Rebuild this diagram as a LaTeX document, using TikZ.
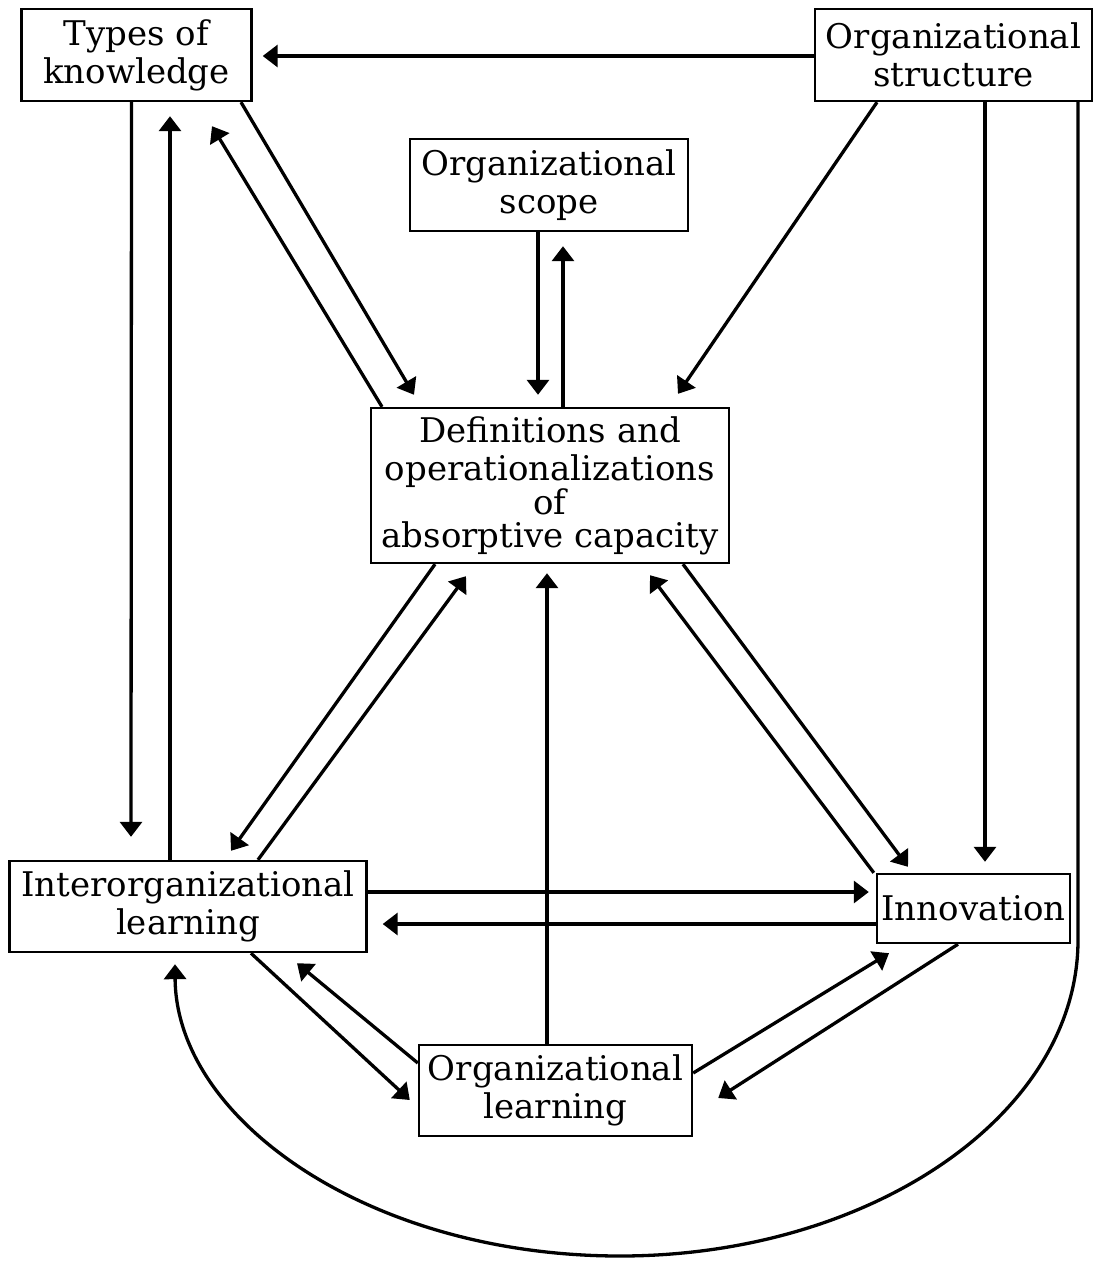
\documentclass[tikz,border=0pt]{standalone}
\usepackage{fontspec}
\setmainfont{DejaVu Serif}
\usetikzlibrary{arrows.meta,calc}
\tikzset{
  box/.style={draw, line width=2.4pt, inner sep=0pt, align=center, font=\fontsize{34}{38}\selectfont},
  arr/.style={line width=3.3pt, -{Triangle[length=15pt,width=22pt]}},
}
\begin{document}
\begin{tikzpicture}[x=1pt,y=-1pt]
\useasboundingbox[fill=white] (0,0) rectangle (1095,1261);
% nodes
\node[box, minimum width=230pt, minimum height=92pt] (tk) at (136.5,55) {Types of\\knowledge};
\node[box, minimum width=277pt, minimum height=92pt] (os) at (953.5,55) {Organizational\\structure};
\node[box, minimum width=278pt, minimum height=92pt] (sc) at (549,185) {Organizational\\scope};
\node[box, minimum width=358pt, minimum height=155pt] (def) at (550,485.5) {Definitions and\\operationalizations\\[-4pt]of\\[-5pt]absorptive capacity};
\node[box, minimum width=357pt, minimum height=91pt] (il) at (188,906.5) {Interorganizational\\learning};
\node[box, minimum width=193pt, minimum height=69pt] (inn) at (973.5,908.5) {Innovation};
\node[box, minimum width=273pt, minimum height=91pt] (ol) at (555.5,1090.5) {Organizational\\learning};
% helper coordinates for the big curve
\coordinate (cR) at (1078,940);
\coordinate (cB) at (620,1256);
% connectors
\draw[arr] ($(os.west)+(0,1)$) -- ($(tk.east)+(10,1)$);
\draw[arr] ($(tk.south)+(-5,0)$) -- ($(il.north)+(-57,-23)$);
\draw[arr] ($(il.north)+(-18,0)$) -- ($(tk.south)+(33.5,14)$);
\draw[arr] ($(tk.south)+(104.5,0)$) -- ($(def.north)+(-136,-12)$);
\draw[arr] ($(def.north)+(-168,0)$) -- ($(tk.south)+(75.5,24)$);
\draw[arr] ($(sc.south)+(-11,0)$) -- ($(def.north)+(-12,-12)$);
\draw[arr] ($(def.north)+(13,0)$) -- ($(sc.south)+(14,14)$);
\draw[arr] ($(os.south)+(-76.5,0)$) -- ($(def.north)+(128,-13)$);
\draw[arr] ($(os.south)+(31.5,0)$) -- ($(inn.north)+(11.5,-11)$);
\draw[arr] ($(os.south)+(124.5,0)$) -- (cR) .. controls (1078,1115) and (870,1256) .. (cB) .. controls (370,1256) and (176,1120) .. ($(il.south)+(-13,11)$);
\draw[arr] ($(def.south)+(-115,0)$) -- ($(il.north)+(43,-9)$);
\draw[arr] ($(il.north)+(70,0)$) -- ($(def.south)+(-84,12)$);
\draw[arr] ($(def.south)+(133,0)$) -- ($(inn.north)+(-65.5,-6)$);
\draw[arr] ($(inn.north west)+(-2,0)$) -- ($(def.south)+(100,11)$);
\draw[arr] ($(ol.north)+(-8.5,0)$) -- ($(def.south)+(-3,9)$);
\draw[arr] ($(il.east)+(0,-14.5)$) -- ($(inn.west)+(-7,-16.5)$);
\draw[arr] ($(inn.west)+(0,15.5)$) -- ($(il.east)+(15,17.5)$);
\draw[arr] ($(il.south)+(63,0)$) -- ($(ol.west)+(-8,9.5)$);
\draw[arr] ($(ol.west)+(0,-27.5)$) -- ($(il.south)+(109,10)$);
\draw[arr] ($(ol.east)+(0,-17.5)$) -- ($(inn.south)+(-84.5,9)$);
\draw[arr] ($(inn.south)+(-15.5,0)$) -- ($(ol.east)+(25,7.5)$);
\end{tikzpicture}
\end{document}
